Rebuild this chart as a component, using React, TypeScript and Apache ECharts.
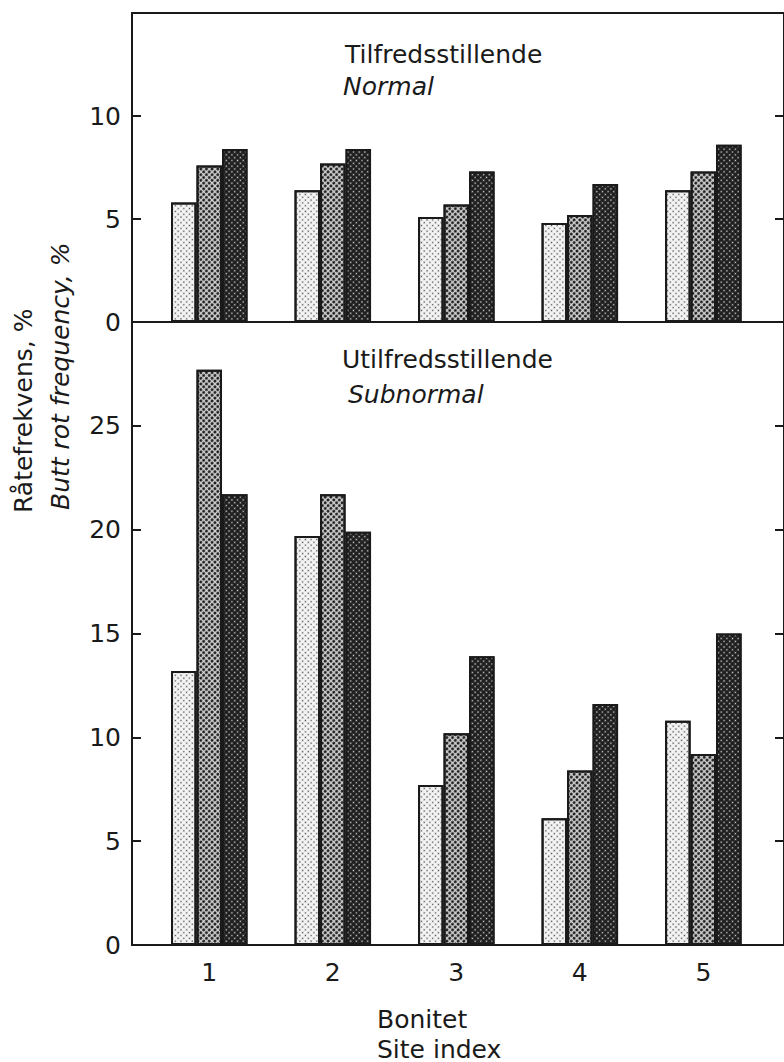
import React, { useEffect, useRef } from 'react';
import * as echarts from 'echarts';

// ---- data ----
const categories = ['1', '2', '3', '4', '5'];
// Tilfredsstillende / Normal (top panel)
const normalLight = [5.8, 6.4, 5.1, 4.8, 6.4];
const normalMid = [7.6, 7.7, 5.7, 5.2, 7.3];
const normalDark = [8.4, 8.4, 7.3, 6.7, 8.6];
// Utilfredsstillende / Subnormal (bottom panel)
const subLight = [13.2, 19.7, 7.7, 6.1, 10.8];
const subMid = [27.7, 21.7, 10.2, 8.4, 9.2];
const subDark = [21.7, 19.9, 13.9, 11.6, 15.0];

const topMax = 15;
const bottomMax = 30;
const tickStep = 5;

const FONT = 'DejaVu Sans';
const INK = '#1a1a1a';

const toPoints = (arr: number[]) => categories.map((c, i) => [i + 1, arr[i]]);

const styles = [
  {
    color: '#f4f4f4',
    decal: {
      symbol: 'circle', symbolSize: 0.5, color: '#4a4a4a',
      dashArrayX: [3, 1], dashArrayY: [3, 1], rotation: Math.PI / 4,
    },
  },
  {
    color: '#d0d0d0',
    decal: {
      symbol: 'circle', symbolSize: 0.95, color: '#141414',
      dashArrayX: [3, 1], dashArrayY: [3, 1], rotation: Math.PI / 4,
    },
  },
  {
    color: '#1f1f1f',
    decal: {
      symbol: 'circle', symbolSize: 0.5, color: '#d8d8d8',
      dashArrayX: [3, 1], dashArrayY: [3, 1], rotation: Math.PI / 4,
    },
  },
];

export default function App() {
  const ref = useRef<HTMLDivElement>(null);

  useEffect(() => {
    if (!ref.current) return;
    const chart = echarts.init(ref.current, null, { renderer: 'svg' });

    const xMin = 0.3745;
    const xMax = 5.653;

    const makeX = (gridIndex: number, showLabels: boolean) => ({
      type: 'value',
      gridIndex,
      min: xMin,
      max: xMax,
      splitLine: { show: false },
      axisTick: { show: false },
      axisLine: { show: true, onZero: false, lineStyle: { color: INK, width: 2 } },
      axisLabel: {
        show: showLabels,
        customValues: categories.map((c, i) => i + 1),
        formatter: (v: number) => categories[Math.round(v) - 1] ?? '',
        fontFamily: FONT,
        fontSize: 25,
        color: INK,
        margin: 15,
      },
    });

    const makeY = (gridIndex: number, max: number, position: 'left' | 'right') => ({
      type: 'value',
      gridIndex,
      position,
      min: 0,
      max,
      interval: tickStep,
      splitLine: { show: false },
      axisLine: { show: true, lineStyle: { color: INK, width: 2 } },
      axisTick: { show: true, inside: true, length: 9, lineStyle: { color: INK, width: 2 } },
      axisLabel: {
        show: position === 'left',
        showMaxLabel: false,
        fontFamily: FONT,
        fontSize: 25,
        color: INK,
        margin: 11,
      },
    });

    const bar = (data: number[], idx: number, xAxisIndex: number, yAxisIndex: number) => ({
      type: 'bar',
      xAxisIndex,
      yAxisIndex,
      data: toPoints(data),
      barWidth: 25.5,
      barGap: '0%',
      itemStyle: {
        color: styles[idx].color,
        decal: styles[idx].decal,
        borderColor: INK,
        borderWidth: 2,
      },
    });

    const text = (t: string, x: number, y: number, italic = false, rotation = 0) => ({
      type: 'text',
      x,
      y,
      rotation,
      style: {
        text: t,
        fill: INK,
        font: `${italic ? 'italic ' : ''}25px "${FONT}"`,
        align: 'left',
        verticalAlign: 'middle',
      },
    });

    chart.setOption({
      animation: false,
      backgroundColor: '#ffffff',
      grid: [
        { left: 132, right: -2, top: 13, height: 309, show: true, borderColor: INK, borderWidth: 2 },
        { left: 132, right: -2, top: 322, height: 623, show: true, borderColor: INK, borderWidth: 2 },
      ],
      xAxis: [makeX(0, false), makeX(1, true)],
      yAxis: [
        makeY(0, topMax, 'left'),
        makeY(0, topMax, 'right'),
        makeY(1, bottomMax, 'left'),
        makeY(1, bottomMax, 'right'),
      ],
      series: [
        bar(normalLight, 0, 0, 0),
        bar(normalMid, 1, 0, 0),
        bar(normalDark, 2, 0, 0),
        bar(subLight, 0, 1, 2),
        bar(subMid, 1, 1, 2),
        bar(subDark, 2, 1, 2),
      ],
      graphic: [
        text('Tilfredsstillende', 345, 54),
        text('Normal', 343, 86, true),
        text('Utilfredsstillende', 342, 359),
        text('Subnormal', 348, 394, true),
        text('Bonitet', 377, 1019),
        text('Site index', 377, 1049),
        text('Råtefrekvens, %', 23, 513, false, Math.PI / 2),
        text('Butt rot frequency, %', 60, 510, true, Math.PI / 2),
      ],
    });

    return () => chart.dispose();
  }, []);

  return (
    <div
      ref={ref}
      style={{ position: 'absolute', left: 0, top: 0, width: 784, height: 1062, background: '#fff' }}
    />
  );
}
